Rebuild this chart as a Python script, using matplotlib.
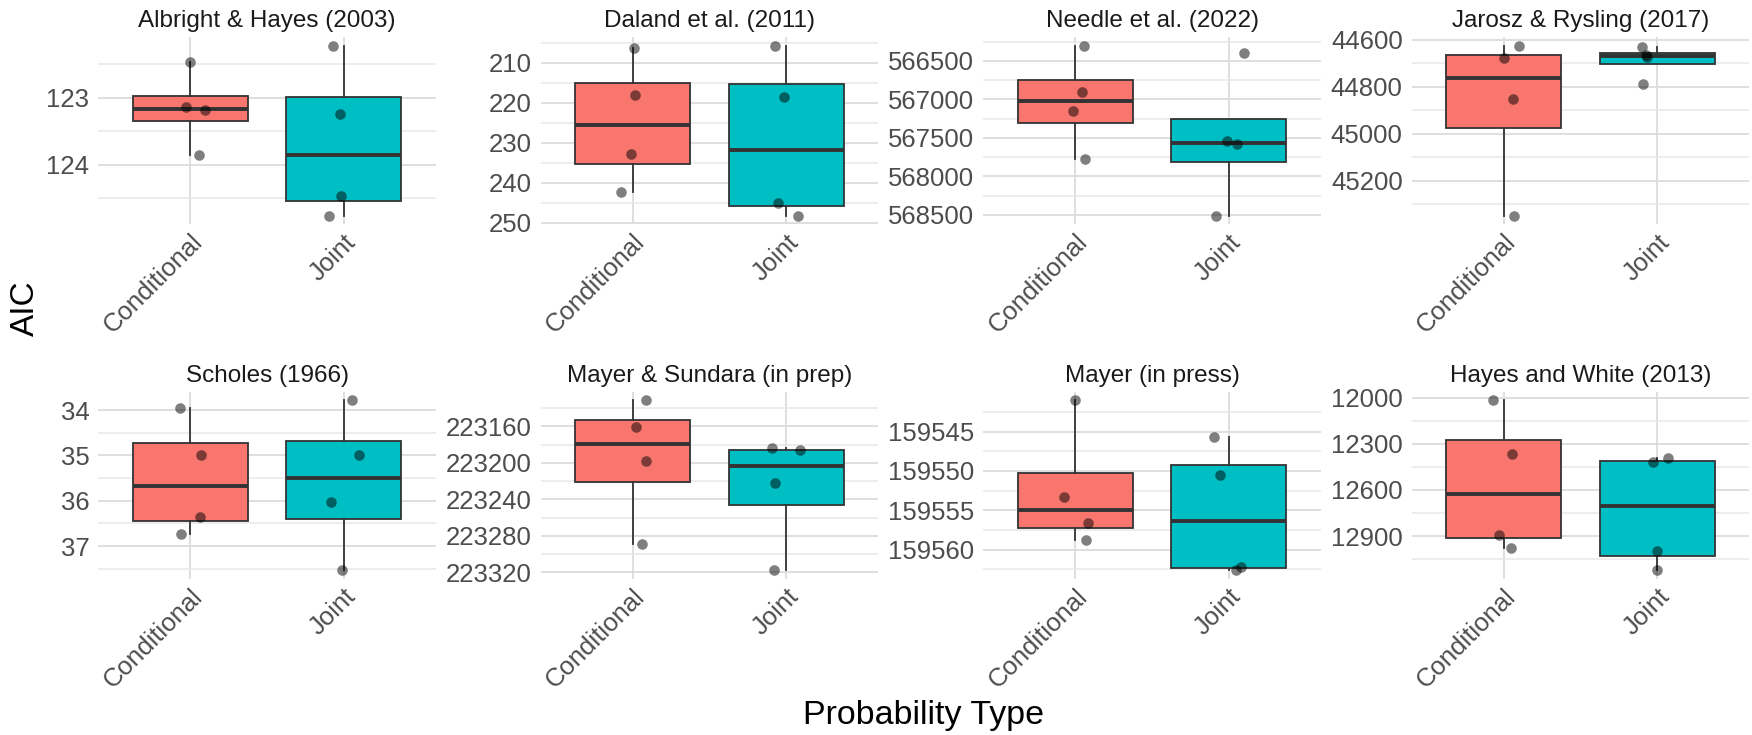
import numpy as np
import matplotlib
matplotlib.use("Agg")
import matplotlib.pyplot as plt

plt.rcParams["font.family"] = ["Liberation Sans", "DejaVu Sans"]

STUDIES = ["Albright & Hayes (2003)", "Daland et al. (2011)", "Needle et al. (2022)",
           "Jarosz & Rysling (2017)", "Scholes (1966)", "Mayer & Sundara (in prep)",
           "Mayer (in press)", "Hayes and White (2013)"]
GROUPS = ["Conditional", "Joint"]

# AIC per model run
AIC_COND = [
    [122.47, 123.14, 123.18, 123.86],
    [206.3, 218.0, 232.96, 242.4],
    [566302, 566901, 567146, 567779],
    [44625, 44678, 44851, 45350],
    [33.96, 34.98, 36.35, 36.73],
    [223131.2, 223160.3, 223198.2, 223289.1],
    [159541.0, 159553.3, 159556.66, 159558.8],
    [12017, 12364.6, 12891, 12975],
]
AIC_JOINT = [
    [122.22, 123.24, 124.46, 124.76],
    [205.7, 218.46, 245.1, 248.3],
    [566402, 567547, 567581, 568512],
    [44630, 44666, 44676, 44788],
    [33.78, 34.98, 36.03, 37.54],
    [223184.0, 223185.8, 223221.4, 223317.8],
    [159545.7, 159550.5, 159562.28, 159562.66],
    [12392.6, 12416, 12999, 13124],
]
# horizontal jitter of each point (category units)
JIT_COND = [
    [0.0, -0.03, 0.094, 0.055],
    [0.009, 0.017, -0.011, -0.076],
    [0.059, 0.046, -0.015, 0.061],
    [0.098, 0.002, 0.059, 0.067],
    [-0.068, 0.068, 0.061, -0.063],
    [0.085, 0.02, 0.085, 0.063],
    [0.0, -0.076, 0.08, 0.07],
    [-0.072, 0.052, -0.031, 0.046],
]
JIT_JOINT = [
    [-0.072, -0.028, -0.02, -0.098],
    [-0.074, -0.013, -0.057, 0.078],
    [0.098, -0.011, 0.054, -0.085],
    [-0.10, -0.076, -0.07, -0.093],
    [0.052, 0.098, -0.081, -0.015],
    [-0.094, 0.091, -0.076, -0.078],
    [-0.098, -0.057, 0.076, 0.043],
    [0.067, -0.028, -0.004, -0.004],
]
MAJOR_TICKS = [
    [123, 124],
    [210, 220, 230, 240, 250],
    [566500, 567000, 567500, 568000, 568500],
    [44600, 44800, 45000, 45200],
    [34, 35, 36, 37],
    [223160, 223200, 223240, 223280, 223320],
    [159545, 159550, 159555, 159560],
    [12000, 12300, 12600, 12900],
]

C_COND = "#F8766D"
C_JOINT = "#00BFC4"
C_EDGE = "#333333"
C_TEXT = "#4D4D4D"

W, H = 1752, 735
LEFTS = [98.3, 540.7, 983.3, 1411.7]
TOPS = [37, 391.7]
PW, PH = 337.7, 187.3

fig = plt.figure(figsize=(W / 100, H / 100), dpi=100)

for i, study in enumerate(STUDIES):
    row, col = divmod(i, 4)
    ax = fig.add_axes([LEFTS[col] / W, 1 - (TOPS[row] + PH) / H, PW / W, PH / H])

    cond = np.array(AIC_COND[i])
    joint = np.array(AIC_JOINT[i])

    ax.set_axisbelow(True)
    bp = ax.boxplot([cond, joint], positions=[1, 2], widths=0.75, patch_artist=True,
                    whis=1.5, showfliers=False, showcaps=False,
                    boxprops=dict(edgecolor=C_EDGE, linewidth=1.3),
                    whiskerprops=dict(color=C_EDGE, linewidth=1.3),
                    medianprops=dict(color=C_EDGE, linewidth=2.8))
    for patch, c in zip(bp["boxes"], [C_COND, C_JOINT]):
        patch.set_facecolor(c)

    ax.scatter(1 + np.array(JIT_COND[i]), cond, s=58, color="black", alpha=0.5,
               linewidths=0, zorder=4)
    ax.scatter(2 + np.array(JIT_JOINT[i]), joint, s=58, color="black", alpha=0.5,
               linewidths=0, zorder=4)

    allv = np.concatenate([cond, joint])
    lo, hi = allv.min(), allv.max()
    pad = 0.05 * (hi - lo)
    ax.set_ylim(hi + pad, lo - pad)
    ax.set_xlim(0.4, 2.6)

    majors = MAJOR_TICKS[i]
    step = majors[1] - majors[0]
    minors = [m for m in np.arange(majors[0] - step / 2, majors[-1] + step, step)
              if lo - pad <= m <= hi + pad]
    ax.set_yticks(majors, [f"{m:g}" for m in majors])
    ax.set_yticks(minors, minor=True)
    ax.set_xticks([1, 2], GROUPS, rotation=45, ha="right", rotation_mode="anchor")

    ax.grid(which="major", color="#DCDCDC", linewidth=1.3)
    ax.grid(which="minor", axis="y", color="#E8E8E8", linewidth=1.1)
    ax.tick_params(which="both", length=0)
    ax.tick_params(axis="y", labelsize=18.5, labelcolor=C_TEXT, pad=6.5)
    ax.tick_params(axis="x", labelsize=18.5, labelcolor=C_TEXT, pad=4)
    for s in ax.spines.values():
        s.set_visible(False)
    ax.set_title(study, fontsize=17.5, color="#1A1A1A", pad=7)

fig.text(34 / W, 1 - 308 / H, "AIC", rotation=90, rotation_mode="anchor",
         ha="center", va="baseline", fontsize=24, color="black")
fig.text(924 / W, 1 - 724 / H, "Probability Type", ha="center", va="baseline",
         fontsize=24.5, color="black")

fig.savefig("out.png", dpi=100)
